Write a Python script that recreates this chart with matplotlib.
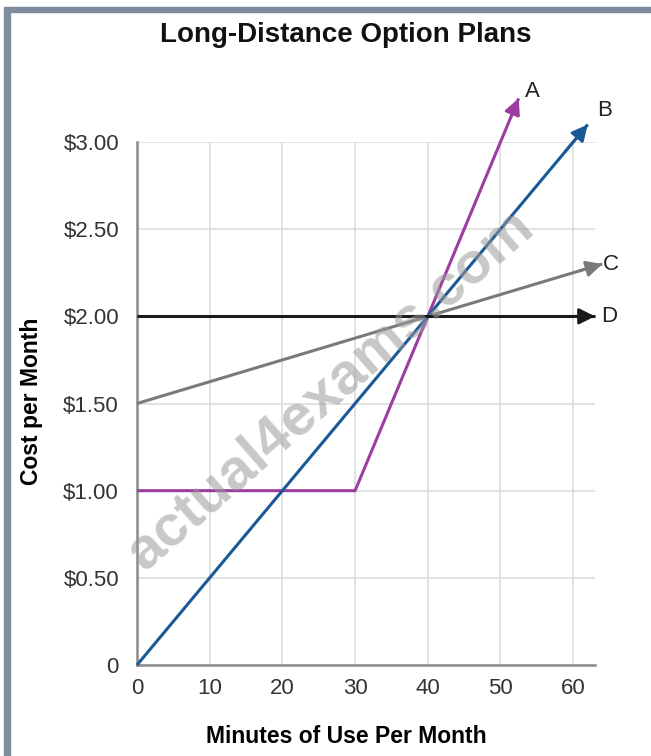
import matplotlib
matplotlib.use('Agg')
import matplotlib.pyplot as plt
from matplotlib.patches import Rectangle

plt.rcParams['font.family'] = ['Liberation Sans', 'DejaVu Sans']

# Cost of each plan by minutes of use
a_minutes = [0, 30, 52.5]
a_cost = [1.00, 1.00, 3.25]
b_minutes = [0, 62]
b_cost = [0.00, 3.10]
c_minutes = [0, 64]
c_cost = [1.50, 2.30]
d_minutes = [0, 63]
d_cost = [2.00, 2.00]

plan_names = ['A', 'B', 'C', 'D']
plan_colors = ['#9c3d9f', '#1b5896', '#7a7a7a', '#1a1a1a']

x_ticks = [0, 10, 20, 30, 40, 50, 60]
y_ticks = [0, 0.5, 1.0, 1.5, 2.0, 2.5, 3.0]
y_tick_labels = ['0', '$0.50', '$1.00', '$1.50', '$2.00', '$2.50', '$3.00']

fig = plt.figure(figsize=(6.51, 7.56), dpi=100)

# frame of the screenshot (left and top edge only)
fig.patches.append(Rectangle((4 / 651, 0), 6 / 651, 744 / 756, transform=fig.transFigure,
                             color='#7e8c9c', zorder=0))
fig.patches.append(Rectangle((4 / 651, 744 / 756), 647 / 651, 5 / 756, transform=fig.transFigure,
                             color='#7e8c9c', zorder=0))

ax = fig.add_axes([137 / 651, 91 / 756, 458 / 651, 523 / 756])
ax.set_xlim(0, 63)
ax.set_ylim(0, 3.0)

ax.set_xticks(x_ticks)
ax.set_yticks(y_ticks)
ax.set_yticklabels(y_tick_labels)
ax.tick_params(length=0, labelsize=16, colors='#333333')
ax.tick_params(axis='y', pad=13)
ax.tick_params(axis='x', pad=9)
ax.grid(True, color='#dddddd', lw=1.2)
ax.set_axisbelow(True)
for side in ['top', 'right']:
    ax.spines[side].set_visible(False)
for side in ['left', 'bottom']:
    ax.spines[side].set_color('#8a8a8a')
    ax.spines[side].set_linewidth(1.8)

series = [(a_minutes, a_cost), (b_minutes, b_cost), (c_minutes, c_cost), (d_minutes, d_cost)]
label_offsets = [(0.9, 0.04), (1.3, 0.08), (0.1, 0.0), (0.9, 0.0)]
for (xs, ys), name, color, off in zip(series, plan_names, plan_colors, label_offsets):
    ax.plot(xs, ys, color=color, lw=2.2, clip_on=False, zorder=3, solid_capstyle='butt')
    # arrow head at the end of the line
    x0, y0 = xs[-2], ys[-2]
    x1, y1 = xs[-1], ys[-1]
    ax.annotate('', xy=(x1, y1), xytext=(x1 - (x1 - x0) * 0.05, y1 - (y1 - y0) * 0.05),
                arrowprops=dict(arrowstyle='-|>', color=color, lw=2, mutation_scale=24,
                                shrinkA=0, shrinkB=0),
                annotation_clip=False, zorder=4)
    ax.text(x1 + off[0], y1 + off[1], name, fontsize=16, color='#222222',
            ha='left', va='center', clip_on=False)

ax.set_xlabel('Minutes of Use Per Month', fontsize=16.5, fontweight='bold')
ax.xaxis.set_label_coords(0.457, -0.115)
ax.set_ylabel('Cost per Month', fontsize=16.5, fontweight='bold')
ax.yaxis.set_label_coords(-0.205, 0.505)

fig.text(346 / 651, 1 - 35 / 756, 'Long-Distance Option Plans', fontsize=20,
         fontweight='bold', ha='center', va='center', color='#111111')

# watermark
fig.text(330 / 651, 1 - 390 / 756, 'actual4exams.com', fontsize=42, fontweight='bold',
         color='#9a9a9a', alpha=0.55, rotation=41, ha='center', va='center', zorder=10)

fig.savefig('out.png', dpi=100)
